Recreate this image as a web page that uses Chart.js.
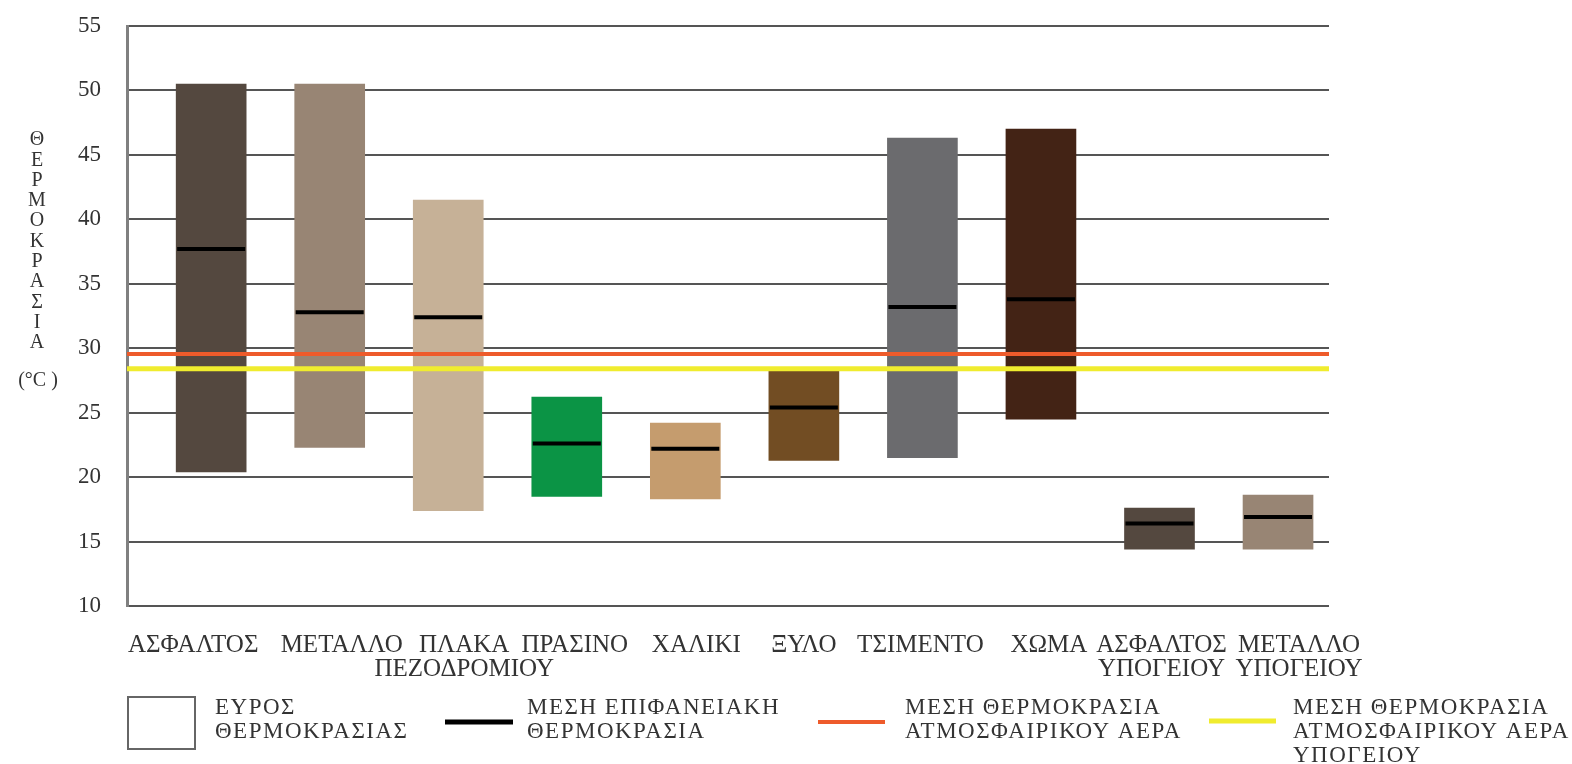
<!DOCTYPE html>
<html lang="el">
<head>
<meta charset="utf-8">
<title>Θερμοκρασία επιφανειών</title>
<script src="https://cdn.jsdelivr.net/npm/chart.js@4.4.1/dist/chart.umd.min.js"></script>
<style>
  html, body { margin: 0; padding: 0; background: #fff; }
  #wrap { position: relative; width: 1572px; height: 764px; }
</style>
</head>
<body>
<div id="wrap"><canvas id="chart"></canvas></div>
<script>
// surfaces
const categories = [
  'ΑΣΦΑΛΤΟΣ', 'ΜΕΤΑΛΛΟ', ['ΠΛΑΚΑ', 'ΠΕΖΟΔΡΟΜΙΟΥ'], 'ΠΡΑΣΙΝΟ', 'ΧΑΛΙΚΙ',
  'ΞΥΛΟ', 'ΤΣΙΜΕΝΤΟ', 'ΧΩΜΑ', ['ΑΣΦΑΛΤΟΣ', 'ΥΠΟΓΕΙΟΥ'], ['ΜΕΤΑΛΛΟ', 'ΥΠΟΓΕΙΟΥ']
]
// temperature range (°C) and mean surface temperature
const minTemp = [20.4, 22.3, 17.4, 18.5, 18.3, 21.3, 21.5, 24.5, 14.4, 14.4]
const maxTemp = [50.5, 50.5, 41.5, 26.2, 24.2, 28.5, 46.3, 47.0, 17.6, 18.6]
const meanTemp = [37.7, 32.8, 32.4, 22.6, 22.2, 25.4, 33.2, 33.8, 16.4, 16.9]
const barColors = [
  '#54483f', '#988574', '#c6b197', '#0b9445', '#c59c6e',
  '#724d23', '#6b6b6e', '#432315', '#54483f', '#988574'
]
// mean air temperature, open air and underground
const airMean = 29.55
const airMeanUnderground = 28.4
const yTicks = [10, 15, 20, 25, 30, 35, 40, 45, 50, 55]

const yTitle = ['Θ', 'Ε', 'Ρ', 'Μ', 'Ο', 'Κ', 'Ρ', 'Α', 'Σ', 'Ι', 'Α']
const yUnit = '(°C )'
const legendLabels = [
  ['ΕΥΡΟΣ', 'ΘΕΡΜΟΚΡΑΣΙΑΣ'],
  ['ΜΕΣΗ ΕΠΙΦΑΝΕΙΑΚΗ', 'ΘΕΡΜΟΚΡΑΣΙΑ'],
  ['ΜΕΣΗ ΘΕΡΜΟΚΡΑΣΙΑ', 'ΑΤΜΟΣΦΑΙΡΙΚΟΥ ΑΕΡΑ'],
  ['ΜΕΣΗ ΘΕΡΜΟΚΡΑΣΙΑ', 'ΑΤΜΟΣΦΑΙΡΙΚΟΥ ΑΕΡΑ', 'ΥΠΟΓΕΙΟΥ']
]

const ORANGE = '#ee5b2b'
const YELLOW = '#f0ec2e'
const TEXT = '#333'
const SERIF = '"Liberation Serif", "Times New Roman", serif'

// x runs a little past the first/last bar on each side
const X_MIN = -0.71
const X_MAX = 9.43
const X_UNIT = 118.6 // px per category at this size
// small horizontal shifts (px) so neighbouring labels don't collide
const labelNudge = [-18, 12, 16, 8, 11, 0, -2, 8, 2, 21]

// stacked vertical title on the left
const yTitlePlugin = {
  id: 'yTitle',
  afterDraw(chart) {
    const ctx = chart.ctx
    ctx.save()
    ctx.fillStyle = TEXT
    ctx.font = '20px ' + SERIF
    ctx.textAlign = 'center'
    ctx.textBaseline = 'middle'
    yTitle.forEach((ch, i) => ctx.fillText(ch, 37, 140 + i * 20.3))
    ctx.fillText(yUnit, 38, 381)
    ctx.restore()
  }
}

// legend row under the axis
const legendPlugin = {
  id: 'bottomLegend',
  afterDraw(chart) {
    const ctx = chart.ctx
    ctx.save()
    ctx.font = '23px ' + SERIF
    if ('letterSpacing' in ctx) ctx.letterSpacing = '1.5px'
    ctx.fillStyle = TEXT
    ctx.textBaseline = 'middle'

    // range box
    ctx.strokeStyle = '#666'
    ctx.lineWidth = 2
    ctx.strokeRect(128, 697, 67, 52)

    const swatch = (x1, x2, y, color, w) => {
      ctx.strokeStyle = color
      ctx.lineWidth = w
      ctx.beginPath()
      ctx.moveTo(x1, y)
      ctx.lineTo(x2, y)
      ctx.stroke()
    }
    swatch(445, 513, 722, '#000', 5)
    swatch(818, 885, 722, ORANGE, 4)
    swatch(1209, 1276, 721, YELLOW, 5)

    const textX = [215, 527, 905, 1293]
    legendLabels.forEach((lines, i) => {
      lines.forEach((t, j) => ctx.fillText(t, textX[i], 708 + j * 24))
    })
    ctx.restore()
  }
}

new Chart(document.getElementById('chart'), {
  type: 'bar',
  data: {
    datasets: [
      {
        label: 'ΕΥΡΟΣ ΘΕΡΜΟΚΡΑΣΙΑΣ',
        data: categories.map((c, i) => ({ x: i, y: [minTemp[i], maxTemp[i]] })),
        backgroundColor: barColors,
        borderWidth: 0,
        borderSkipped: false,
        barThickness: 70,
        order: 3
      },
      {
        type: 'line',
        label: 'ΜΕΣΗ ΘΕΡΜΟΚΡΑΣΙΑ ΑΤΜΟΣΦΑΙΡΙΚΟΥ ΑΕΡΑ',
        data: [{ x: X_MIN, y: airMean }, { x: X_MAX, y: airMean }],
        borderColor: ORANGE,
        borderWidth: 4,
        pointRadius: 0,
        order: 2
      },
      {
        type: 'line',
        label: 'ΜΕΣΗ ΘΕΡΜΟΚΡΑΣΙΑ ΑΤΜΟΣΦΑΙΡΙΚΟΥ ΑΕΡΑ ΥΠΟΓΕΙΟΥ',
        data: [{ x: X_MIN, y: airMeanUnderground }, { x: X_MAX, y: airMeanUnderground }],
        borderColor: YELLOW,
        borderWidth: 5,
        pointRadius: 0,
        order: 2
      },
      {
        type: 'line',
        label: 'ΜΕΣΗ ΕΠΙΦΑΝΕΙΑΚΗ ΘΕΡΜΟΚΡΑΣΙΑ',
        data: categories.map((c, i) => ({ x: i, y: meanTemp[i] })),
        showLine: false,
        pointStyle: 'line',
        pointRadius: 34,
        pointHoverRadius: 34,
        pointBorderWidth: 4,
        pointBorderColor: '#000',
        borderColor: '#000',
        order: 1
      }
    ]
  },
  options: {
    responsive: true,
    maintainAspectRatio: false,
    animation: false,
    layout: {
      // the wide "line" points would otherwise push the plot area down
      autoPadding: false,
      padding: { top: 26, right: 243, bottom: 78, left: 0 }
    },
    plugins: {
      legend: { display: false },
      tooltip: { enabled: false }
    },
    scales: {
      x: {
        type: 'linear',
        min: X_MIN,
        max: X_MAX,
        offset: false,
        grid: { display: false },
        border: { display: false },
        afterBuildTicks: (scale) => {
          scale.ticks = categories.map((c, i) => ({ value: i + labelNudge[i] / X_UNIT }))
        },
        afterFit: (scale) => { scale.height = 80 },
        ticks: {
          autoSkip: false,
          maxRotation: 0,
          minRotation: 0,
          padding: 20,
          color: TEXT,
          font: { family: SERIF, size: 25, lineHeight: 0.95 },
          callback: (value, index) => categories[index]
        }
      },
      y: {
        min: 10,
        max: 55,
        afterBuildTicks: (scale) => {
          scale.ticks = yTicks.map(v => ({ value: v }))
        },
        afterFit: (scale) => {
          scale.width = 127
          // layout padding already leaves room for the end labels
          scale.paddingTop = 0
          scale.paddingBottom = 0
        },
        grid: { color: '#555', lineWidth: 2, drawTicks: false },
        border: { color: '#808080', width: 3 },
        ticks: {
          padding: 26,
          color: TEXT,
          font: { family: SERIF, size: 23 }
        }
      }
    }
  },
  plugins: [yTitlePlugin, legendPlugin]
})
</script>
</body>
</html>
